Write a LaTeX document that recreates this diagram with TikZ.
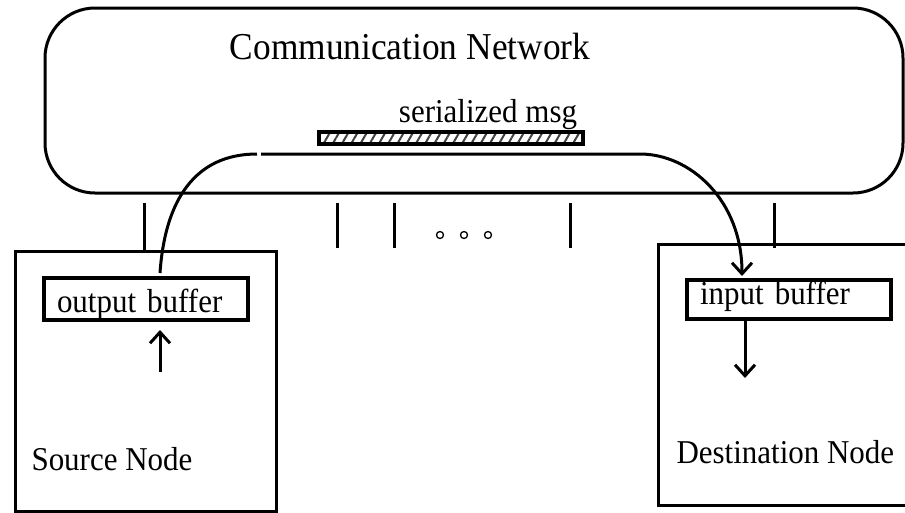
\documentclass[tikz,border=0pt]{standalone}
\usepackage{fontspec}
\setmainfont{Liberation Serif}[FakeStretch=0.93]
\usetikzlibrary{arrows.meta,patterns.meta}

\tikzset{
  net/.style={draw,line width=3pt,rounded corners=50pt,inner sep=0pt,outer sep=0pt},
  buf/.style={draw,line width=4pt,inner xsep=13pt,inner ysep=0pt,text width=178pt,align=left,
    font=\fontsize{33.3}{36}\selectfont},
  hostbox/.style={inner sep=0pt,outer sep=0pt},
  tick/.style={line width=3pt},
  flow/.style={line width=3pt,-{Straight Barb[length=11pt,width=20pt,line width=3pt]}}
}

\begin{document}
\begin{tikzpicture}[x=1pt,y=-1pt]
        \useasboundingbox (0,0) rectangle (905,512);
        \node[net,minimum width=858pt,minimum height=185pt] (net) at (474,100.5) {};
        \node[anchor=base,font=\fontsize{38}{42}\selectfont] (nettxt) at (410,59) {Communication Network};
        \node[anchor=base,font=\fontsize{33.3}{36}\selectfont] (msgtxt) at (488,122) {serialized msg};
        \node[draw,line width=3.5pt,minimum width=264pt,minimum height=12pt,inner sep=0pt,
              pattern={Lines[angle=60,distance=8pt,line width=2pt]},pattern color=black!75] (msg) at (451,138) {};

        \node[hostbox,draw,line width=3pt,minimum width=261pt,minimum height=260pt] (src) at (145.5,381) {};
        \node[hostbox,minimum width=247pt,minimum height=261pt] (dst) at (781.5,374.5) {};
        \draw[line width=3pt] (dst.north east) -- (dst.north west) -- (dst.south west) -- (dst.south east);

        \node[buf,minimum height=42pt,text height=30pt,text depth=4pt] (obuf) at (146,299) {output buffer};
        \node[buf,minimum height=39pt,text height=22pt,text depth=13pt] (ibuf) at (789,299.5) {input buffer};
        \node[anchor=base west,font=\fontsize{33.3}{36}\selectfont] (srctxt) at (28,470) {Source Node};
        \node[anchor=base west,font=\fontsize{33.3}{36}\selectfont] (dsttxt) at (673,463) {Destination Node};

        \draw[tick] (144,203) -- (144,251);
        \draw[tick] (774,203) -- (774,248);
        \foreach \x in {337,394,570}
          \draw[tick] (\x,203) -- (\x,248);
        \foreach \x in {440,464,488}
          \draw[line width=1.3pt] (\x,235) circle (3.5pt);

        \draw[line width=3pt] ([xshift=14pt,yshift=3pt]obuf.north) .. controls (165,200) and (195,154) .. (257,154);
        \draw[flow] (261,154) -- (640,154) .. controls (690,154) and (742,200) .. ([xshift=-47pt,yshift=2pt]ibuf.north);

        \coordinate (up) at (160,372);
        \draw[flow] (up) -- (160,330);
        \coordinate (dn) at (745,378);
        \draw[flow] (ibuf.south -| dn) -- (dn);
\end{tikzpicture}
\end{document}
